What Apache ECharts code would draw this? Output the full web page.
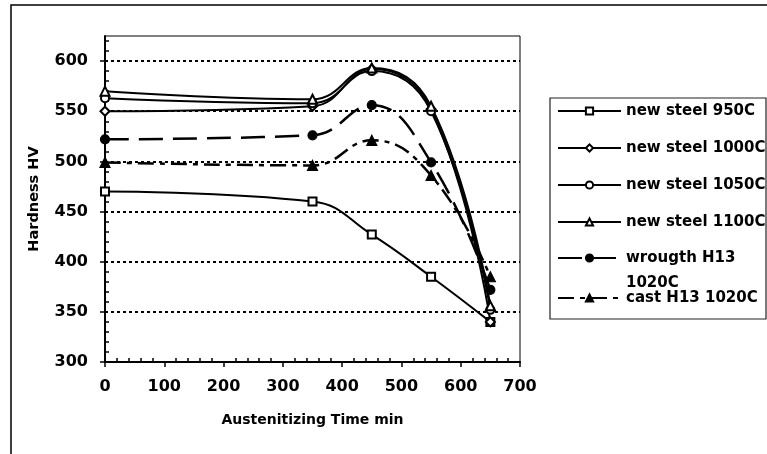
<!DOCTYPE html>
<html><head><meta charset="utf-8">
<script src="https://cdn.jsdelivr.net/npm/echarts@6/dist/echarts.min.js"></script>
<style>html,body{margin:0;padding:0;background:#fff}#c{width:767px;height:454px}</style>
</head><body><div id="c"></div>
<script>
// Austenitizing time (min)
const times = [0, 350, 450, 550, 650];
// Hardness HV
const ns950 = [470, 460, 427, 385, 340];
const ns1000 = [550, 555, 592, 552, 340];
const ns1050 = [563, 558, 590, 550, 352];
const ns1100 = [570, 562, 593, 555, 356];
const wrought = [522, 526, 556, 499, 372];
const cast = [499, 496, 521, 486, 385];
const seriesNames = ['new steel 950C', 'new steel 1000C', 'new steel 1050C', 'new steel 1100C', 'wrougth H13 1020C', 'cast H13 1020C'];
const xTicks = [0, 100, 200, 300, 400, 500, 600, 700];
const yTicks = [300, 350, 400, 450, 500, 550, 600];

const FF = 'DejaVu Sans';
const pts = arr => times.map((t, i) => [t, arr[i]]);
const txt = (size) => ({ fontFamily: FF, fontWeight: 'bold', fontSize: size, color: '#000' });

function mk(name, arr, symbol, size, lineType, width) {
  return {
    name, type: 'line', data: pts(arr), smooth: 0.45,
    symbol, symbolSize: size,
    lineStyle: { color: '#000', width, type: lineType },
    itemStyle: { color: '#000', borderColor: '#000', borderWidth: 1.2 },
    emphasis: { disabled: true }
  };
}

const chart = echarts.init(document.getElementById('c'), null, { renderer: 'canvas' });
chart.setOption({
  animation: false,
  backgroundColor: '#fff',
  graphic: [
    { type: 'rect', shape: { x: 11, y: 5, width: 900, height: 600 }, style: { fill: 'none', stroke: '#000', lineWidth: 1.5 }, z: 0 },
    { type: 'rect', shape: { x: 550, y: 98, width: 216, height: 221 }, style: { fill: 'none', stroke: '#222', lineWidth: 1.2 }, z: 0 }
  ],
  grid: { left: 105, right: 247, top: 36, bottom: 92, show: true, borderColor: '#000', borderWidth: 1, backgroundColor: 'transparent' },
  xAxis: {
    type: 'value', min: 0, max: 700, interval: 100,
    axisLine: { show: true, onZero: false, lineStyle: { color: '#000', width: 2 } },
    axisTick: { show: true, length: 5, lineStyle: { color: '#000', width: 1.5 } },
    minorTick: { show: true, splitNumber: 5, length: -4, lineStyle: { color: '#000', width: 1.5 } },
    axisLabel: Object.assign({ margin: 17, customValues: xTicks }, txt(16)),
    splitLine: { show: false },
    name: 'Austenitizing Time min', nameLocation: 'middle', nameGap: 51,
    nameTextStyle: txt(14)
  },
  yAxis: {
    type: 'value', min: 300, max: 625, interval: 50,
    axisLine: { show: true, onZero: false, lineStyle: { color: '#000', width: 2 } },
    axisTick: { show: true, length: 5, customValues: yTicks, lineStyle: { color: '#000', width: 1.5 } },
    minorTick: { show: true, splitNumber: 5, length: -4, lineStyle: { color: '#000', width: 1.5 } },
    axisLabel: Object.assign({ margin: 17, customValues: yTicks }, txt(16)),
    splitLine: { show: true, lineStyle: { color: '#000', width: 2, type: [3, 3] } },
    name: 'Hardness HV', nameLocation: 'middle', nameGap: 63,
    nameTextStyle: txt(14.5)
  },
  legend: [
    {
      data: seriesNames.slice(0, 4), orient: 'vertical', left: 557, top: 103.5, padding: 0,
      itemWidth: 63, itemHeight: 9, itemGap: 22, selectedMode: false,
      textStyle: Object.assign({ lineHeight: 15 }, txt(15))
    },
    {
      data: [seriesNames[4]], orient: 'vertical', left: 557, top: 220.5, padding: 0,
      itemWidth: 63, itemHeight: 9, selectedMode: false,
      formatter: () => ' \nwrougth H13\n1020C',
      textStyle: Object.assign({ lineHeight: 25 }, txt(15))
    },
    {
      data: [seriesNames[5]], orient: 'vertical', left: 557, top: 290.5, padding: 0,
      itemWidth: 63, itemHeight: 9, selectedMode: false,
      textStyle: Object.assign({ lineHeight: 15 }, txt(15))
    }
  ],
  series: [
    mk(seriesNames[0], ns950, 'emptyRect', 8, 'solid', 2),
    mk(seriesNames[1], ns1000, 'emptyDiamond', 9, 'solid', 2),
    mk(seriesNames[2], ns1050, 'emptyCircle', 8, 'solid', 2),
    mk(seriesNames[3], ns1100, 'emptyTriangle', 9, 'solid', 2),
    mk(seriesNames[4], wrought, 'circle', 9, [24, 10], 2.5),
    mk(seriesNames[5], cast, 'triangle', 10, [16, 6, 5, 6], 2.5)
  ]
});
</script></body></html>
